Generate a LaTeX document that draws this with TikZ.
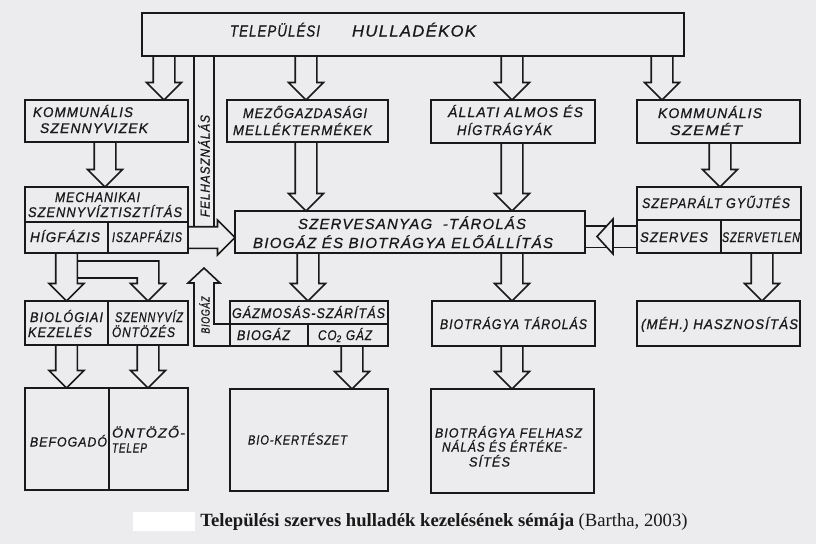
\documentclass[tikz,border=0pt]{standalone}
\usepackage{fontspec}
\usepackage{graphicx}
\setmainfont{Liberation Serif}
\newfontfamily\handf{Liberation Sans}[LetterSpace=8,FakeBold=0.8]
\usetikzlibrary{calc,fit}
\definecolor{bgc}{RGB}{236,236,238}
\definecolor{ink}{RGB}{25,25,25}
\newdimen\pxu \pxu=0.75pt
\newcommand\fitw[2]{\resizebox{#1\pxu}{\height}{#2}}
\def\sw{8.1pt}\def\hw{13.1pt}\def\hl{13.1pt}
\tikzset{
  boxst/.style={draw=ink, line width=1.2pt, inner sep=0pt, outer sep=0pt, rectangle},
  blk/.style={draw=ink, line width=1.2pt, line join=miter},
  lbl/.style={anchor=base west, inner sep=0pt, outer sep=0pt, text=ink, font=\fontsize{10.5}{12}\handf\itshape},
}
\newcommand\bx[5]{\node[boxst, fit={(#2,#3) (#4,#5)}] (#1) {};}
\newcommand\darr[3]{\draw[blk] let \p0=(#1,0), \p1=(#2.south), \p2=(#3.north) in
  (\x0-\sw,\y1) -- (\x0-\sw,\y2+\hl) -- (\x0-\hw,\y2+\hl) -- (\x0,\y2) -- (\x0+\hw,\y2+\hl) -- (\x0+\sw,\y2+\hl) -- (\x0+\sw,\y1);}
\newcommand\tx[6][10.5]{\node[lbl, font=\fontsize{#1}{#1}\handf\itshape] (#2) at (#3,#4) {\fitw{#5}{#6}};}
\begin{document}
\begin{tikzpicture}[x=0.75pt,y=-0.75pt]
\useasboundingbox (0,0) rectangle (816,544);
\fill[bgc] (0,0) rectangle (816,544);
\fill[white] (133,512) rectangle (195,531);
% boxes
\bx{top}{142}{13}{684}{56}
\bx{komv}{25}{100}{188}{142}
\bx{mezo}{227}{100}{388}{142}
\bx{allati}{431}{100}{595}{143}
\bx{komsz}{637}{100}{800}{143}
\bx{mech}{25}{187}{188}{222}
\bx{hig}{25}{222}{108}{253}
\bx{isz}{108}{222}{188}{253}
\bx{szerv}{235}{211}{585}{253}
\bx{szep}{637}{187}{801}{220}
\bx{szerves}{637}{220}{721}{253}
\bx{szervetlen}{721}{220}{801}{253}
\bx{biol}{25}{301}{108}{345}
\bx{ontoz}{108}{301}{188}{345}
\bx{gaz}{230}{301}{388}{324}
\bx{biogaz}{230}{324}{308}{346}
\bx{co2}{308}{324}{388}{346}
\bx{biotar}{432}{301}{595}{346}
\bx{hasz}{637}{301}{800}{346}
\bx{befog}{25}{388}{109}{490}
\bx{ontelep}{109}{388}{188}{490}
\bx{biokert}{230}{389}{388}{491}
\bx{felh}{431}{389}{594}{493}
% block arrows down
\darr{164}{top}{komv}
\darr{306}{top}{mezo}
\darr{512}{top}{allati}
\darr{662}{top}{komsz}
\darr{105}{komv}{mech}
\darr{720}{komsz}{szep}
\darr{306}{mezo}{szerv}
\darr{512}{allati}{szerv}
\darr{308}{szerv}{gaz}
\darr{512}{szerv}{biotar}
\darr{762}{szervetlen}{hasz}
\darr{66.5}{hig}{biol}
\darr{66.5}{biol}{befog}
\darr{148}{ontoz}{ontelep}
\darr{352}{co2}{biokert}
\darr{512}{biotar}{felh}
% branch to szennyviz ontozes
\draw[blk] let \p2=(ontoz.north), \p5=(66.5,0), \p3=(0,261), \p4=(0,278) in
  (\x5+\sw,\y3) -- (\x2+\sw,\y3) -- (\x2+\sw,\y2+\hl) -- (\x2+\hw,\y2+\hl) -- (\x2,\y2)
  -- (\x2-\hw,\y2+\hl) -- (\x2-\sw,\y2+\hl) -- (\x2-\sw,\y4) -- (\x5+\sw,\y4);
% iszapfazis -> szervesanyag
\draw[blk] let \p1=(isz.east), \p2=(szerv.west) in
  (\x1,\y1+\sw) -- (\x2-\hl,\y1+\sw) -- (\x2-\hl,\y1+\hw) -- (\x2,\y1) -- (\x2-\hl,\y1-\hw) -- (\x2-\hl,\y1-\sw) -- (\x1,\y1-\sw);
% szerves -> szervesanyag
\draw[blk] let \p1=(szerv.east), \p2=(szerves.west) in
  (\x1,\y2+\sw) -- (\x2,\y2+\sw) (\x1,\y2-\sw) -- (\x2,\y2-\sw);
\filldraw[blk, fill=bgc] let \p1=(szerv.east), \p2=(szerves.west) in
  (\x1+9pt,\y2) -- (\x1+21pt,\y2+\hw) -- (\x1+21pt,\y2-\hw) -- cycle;
% felhasznalas channel
\draw[blk] let \p1=(isz.east), \p0=(194,0), \p3=(top.south) in (\x0,\y3) -- (\x0,\y1+\sw);
\draw[blk] let \p1=(isz.east), \p0=(214,0), \p3=(top.south) in (\x0,\y3) -- (\x0,\y1+\sw);
% biogaz channel
\draw[blk] (biogaz.north west) -| (214,283) -- (220,283) -- (204,268) -- (188,283) -- (194,283) |- (biogaz.south west);
% texts
\tx[12]{tt1}{230}{36.5}{90}{TELEPÜLÉSI}
\tx[12]{tt2}{352}{36.5}{124}{HULLADÉKOK}
\tx{tk1}{33}{117}{100}{KOMMUNÁLIS}
\tx{tk2}{40}{133}{108}{SZENNYVIZEK}
\tx{tm1}{243}{118}{124}{MEZŐGAZDASÁGI}
\tx{tm2}{233}{135}{139}{MELLÉKTERMÉKEK}
\tx{ta1}{448}{117}{135}{ÁLLATI ALMOS ÉS}
\tx{ta2}{457}{135}{95}{HÍGTRÁGYÁK}
\tx{ts1}{658}{118}{104}{KOMMUNÁLIS}
\tx{ts2}{670}{135}{72}{SZEMÉT}
\tx{tme1}{55}{202}{85}{MECHANIKAI}
\tx{tme2}{28}{217}{154}{SZENNYVÍZTISZTÍTÁS}
\tx{th}{30}{242}{70}{HÍGFÁZIS}
\tx{ti}{112}{242}{70}{ISZAPFÁZIS}
\tx[11]{tsz1}{298}{229}{228}{SZERVESANYAG\ \ -TÁROLÁS}
\tx[11]{tsz2}{253}{248}{300}{BIOGÁZ ÉS BIOTRÁGYA ELŐÁLLÍTÁS}
\tx{tse}{642}{208}{148}{SZEPARÁLT GYŰJTÉS}
\tx{tsv}{640}{242}{68}{SZERVES}
\tx{tsn}{722}{242}{78}{SZERVETLEN}
\tx{tb1}{30}{322}{73}{BIOLÓGIAI}
\tx{tb2}{28}{337}{64}{KEZELÉS}
\tx{to1}{115}{322}{68}{SZENNYVÍZ}
\tx{to2}{112}{337}{63}{ÖNTÖZÉS}
\tx{tg}{232}{318}{153}{GÁZMOSÁS-SZÁRÍTÁS}
\tx{tgb}{237}{340}{53}{BIOGÁZ}
\tx{tgc}{318}{340}{54}{CO\textsubscript{2} GÁZ}
\tx{tbt}{440}{329}{147}{BIOTRÁGYA TÁROLÁS}
\tx{thz}{641}{329}{157}{(MÉH.) HASZNOSÍTÁS}
\tx[10]{tbe}{30}{446.5}{77}{BEFOGADÓ}
\tx[10]{tot1}{112}{437.5}{73}{ÖNTÖZŐ-}
\tx[10]{tot2}{112}{452.5}{35}{TELEP}
\tx[10]{tbk}{248}{444.5}{99}{BIO-KERTÉSZET}
\tx[10]{tf1}{435}{437.5}{147}{BIOTRÁGYA FELHASZ}
\tx[10]{tf2}{442}{451.5}{125}{NÁLÁS ÉS ÉRTÉKE-}
\tx[10]{tf3}{469}{466.5}{41}{SÍTÉS}
\node[lbl, anchor=center, rotate=90, font=\fontsize{10}{10}\handf\itshape] (tfel) at (204,166) {\fitw{102}{FELHASZNÁLÁS}};
\node[lbl, anchor=center, rotate=90, font=\fontsize{9}{9}\handf\itshape] (tbgz) at (204.5,315) {\fitw{37}{BIOGÁZ}};
% caption
\node[anchor=base, inner sep=0pt, text=ink, font=\fontsize{14}{16}\selectfont] (cap) at (444,526.5)
  {\textbf{Települési szerves hulladék kezelésének sémája} (Bartha, 2003)};
\end{tikzpicture}
\end{document}
